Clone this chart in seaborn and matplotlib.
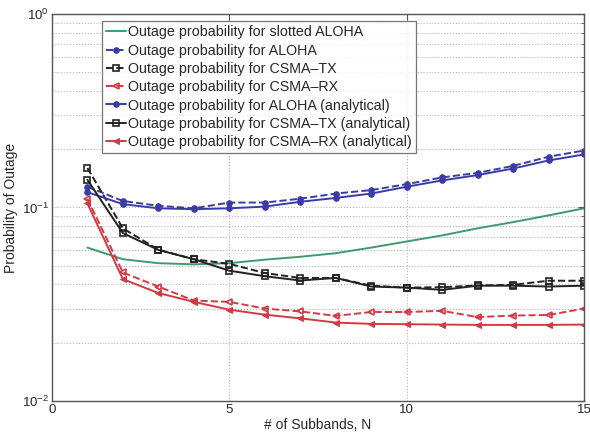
import numpy as np
import pandas as pd
import matplotlib
matplotlib.use("Agg")
import matplotlib.pyplot as plt
import seaborn as sns
from matplotlib.ticker import LogLocator, FixedLocator

# Numero de subbandas
subbands = list(range(1, 16))

# Probabilidades
slotted_aloha = [0.062, 0.054, 0.0515, 0.0508, 0.0515, 0.0537, 0.0556, 0.058,
                 0.062, 0.0667, 0.0717, 0.078, 0.084, 0.091, 0.099]
aloha_sim = [0.128, 0.108, 0.102, 0.099, 0.106, 0.106, 0.111, 0.118,
             0.123, 0.132, 0.143, 0.151, 0.164, 0.183, 0.197]
csma_tx_sim = [0.160, 0.078, 0.0605, 0.054, 0.0511, 0.0458, 0.0432, 0.0432,
               0.0394, 0.0385, 0.0387, 0.0395, 0.0398, 0.0418, 0.0418]
csma_rx_sim = [0.111, 0.0461, 0.039, 0.033, 0.0325, 0.030, 0.029, 0.0275,
               0.0288, 0.0288, 0.0292, 0.0271, 0.0276, 0.0278, 0.030]
aloha_an = [0.120, 0.104, 0.099, 0.098, 0.099, 0.101, 0.107, 0.112,
            0.118, 0.128, 0.138, 0.147, 0.159, 0.175, 0.188]
csma_tx_an = [0.139, 0.0737, 0.0603, 0.054, 0.0471, 0.0441, 0.0419, 0.0432,
              0.039, 0.0385, 0.0375, 0.0394, 0.0394, 0.039, 0.0394]
csma_rx_an = [0.105, 0.0426, 0.0361, 0.0325, 0.0296, 0.0279, 0.0267, 0.0254,
              0.025, 0.0249, 0.0248, 0.0247, 0.0247, 0.0247, 0.0248]

labels = ["Outage probability for slotted ALOHA",
          "Outage probability for ALOHA",
          "Outage probability for CSMA\u2013TX",
          "Outage probability for CSMA\u2013RX",
          "Outage probability for ALOHA (analytical)",
          "Outage probability for CSMA\u2013TX (analytical)",
          "Outage probability for CSMA\u2013RX (analytical)"]

blue = "#3b3ba8"
black = "#222222"
red = "#d23a44"
green = "#3f9a6e"

sns.set_style("white")
plt.rcParams['font.family'] = ['Liberation Sans', 'DejaVu Sans']
plt.rcParams['mathtext.fontset'] = 'custom'
plt.rcParams['mathtext.rm'] = 'Liberation Sans'
plt.rcParams['mathtext.it'] = 'Liberation Sans:italic'

fig = plt.figure(figsize=(5.9, 4.4), dpi=100)
ax = fig.add_axes([0.088, 0.089, 0.902, 0.879])

series = [
    (slotted_aloha, dict(color=green, linestyle='-', marker=None)),
    (aloha_sim, dict(color=blue, linestyle='--', marker='o', markersize=4,
                     markeredgecolor=blue)),
    (csma_tx_sim, dict(color=black, linestyle='--', marker='s', markersize=4.5,
                       markerfacecolor='none', markeredgecolor=black,
                       markeredgewidth=1.2)),
    (csma_rx_sim, dict(color=red, linestyle='--', marker='<', markersize=5,
                       markerfacecolor='none', markeredgecolor=red,
                       markeredgewidth=1.2)),
    (aloha_an, dict(color=blue, linestyle='-', marker='o', markersize=4,
                    markeredgecolor=blue)),
    (csma_tx_an, dict(color=black, linestyle='-', marker='s', markersize=4,
                      markerfacecolor='none', markeredgecolor=black,
                      markeredgewidth=1.2)),
    (csma_rx_an, dict(color=red, linestyle='-', marker='<', markersize=5,
                      markeredgecolor=red)),
]

for (vals, style), lab in zip(series, labels):
    df = pd.DataFrame({"N": subbands, "P": vals})
    sns.lineplot(data=df, x="N", y="P", ax=ax, label=lab, linewidth=1.4, **style)

ax.set_yscale('log')
ax.set_xlim(0, 15)
ax.set_ylim(1e-2, 1)
ax.xaxis.set_major_locator(FixedLocator([0, 5, 10, 15]))
ax.yaxis.set_major_locator(LogLocator(base=10))
ax.yaxis.set_minor_locator(LogLocator(base=10, subs=np.arange(2, 10)))
ax.grid(True, which='major', color='#b4b4c0', linestyle=':', linewidth=0.8)
ax.grid(True, which='minor', axis='y', color='#b4b4c0', linestyle=':', linewidth=0.8)
ax.tick_params(direction='in', which='both', labelsize=9.5, top=True, right=True,
               length=4, color='#555555', pad=2)
ax.tick_params(which='minor', length=2)
for s in ax.spines.values():
    s.set_color('#555555')
    s.set_linewidth(1.0)

ax.set_xlabel("# of Subbands, N", fontsize=10, labelpad=2)
ax.set_ylabel("Probability of Outage", fontsize=10, labelpad=3)

leg = ax.legend(loc='upper left', bbox_to_anchor=(0.094, 0.982), fontsize=10.3,
                frameon=True, fancybox=False, edgecolor='#555555',
                handlelength=1.4, handletextpad=0.1, labelspacing=0.3,
                borderpad=0.3, borderaxespad=0)
leg.get_frame().set_linewidth(0.9)

fig.savefig("out.png", dpi=100)
